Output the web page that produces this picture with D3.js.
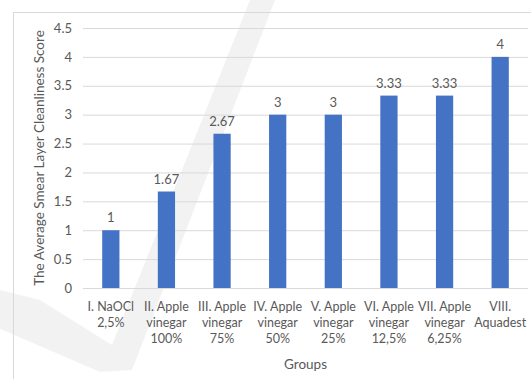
<!DOCTYPE html>
<html lang="en">
<head>
<meta charset="utf-8">
<title>Smear Layer Cleanliness Score</title>
<script src="https://d3js.org/d3.v7.min.js"></script>
<style>
  body { margin: 0; background: #fff; }
  text { font-family: Lato, "Open Sans", sans-serif; fill: #595959; }
  .tick text { font-size: 13px; }
  .value { font-size: 13px; }
  .title { font-size: 13.5px; }
</style>
</head>
<body>
<div id="vis"></div>
<script>
// data
const groups = [
  ["I. NaOCl", "2,5%"],
  ["II. Apple", "vinegar", "100%"],
  ["III. Apple", "vinegar", "75%"],
  ["IV. Apple", "vinegar", "50%"],
  ["V. Apple", "vinegar", "25%"],
  ["VI. Apple", "vinegar", "12,5%"],
  ["VII. Apple", "vinegar", "6,25%"],
  ["VIII.", "Aquadest"]
];
const scores = [1, 1.67, 2.67, 3, 3, 3.33, 3.33, 4];
const yTicks = [0, 0.5, 1, 1.5, 2, 2.5, 3, 3.5, 4, 4.5];

const width = 531, height = 379;
const margin = {top: 28, right: 3, bottom: 91, left: 83};

const svg = d3.select("#vis").append("svg")
  .attr("width", width).attr("height", height);

// faint watermark stroke behind the chart
svg.append("path")
  .attr("d", "M-20,285 L40,300 L112,345 L250,0 L275,0 L132,370 L100,372 L-20,320 Z")
  .attr("fill", "#555").attr("opacity", 0.08);

// chart frame
svg.append("rect")
  .attr("x", 13.5).attr("y", 12.5)
  .attr("width", 530).attr("height", 380)
  .attr("fill", "none").attr("stroke", "#d9d9d9");

const x = d3.scaleBand()
  .domain(d3.range(groups.length))
  .range([margin.left, width - margin.right])
  .paddingInner(0.69).paddingOuter(0.345);

const y = d3.scaleLinear()
  .domain([0, 4.5])
  .range([height - margin.bottom, margin.top]);

// gridlines + y labels
const yAxis = svg.append("g")
  .attr("transform", `translate(${margin.left},0)`)
  .call(d3.axisLeft(y).tickValues(yTicks).tickSize(-(width - margin.left - margin.right)).tickPadding(8).tickFormat(d3.format("")));
yAxis.select(".domain").remove();
yAxis.selectAll(".tick line").attr("stroke", "#d9d9d9");
yAxis.selectAll(".tick text").attr("x", -11);

svg.selectAll(".bar")
  .data(scores)
  .enter().append("rect")
  .attr("class", "bar")
  .attr("x", (d, i) => x(i))
  .attr("width", x.bandwidth())
  .attr("y", d => y(d))
  .attr("height", d => y(0) - y(d))
  .attr("fill", "#4472c4");

svg.selectAll(".value")
  .data(scores)
  .enter().append("text")
  .attr("class", "value")
  .attr("x", (d, i) => x(i) + x.bandwidth() / 2)
  .attr("y", d => y(d) - 8)
  .attr("text-anchor", "middle")
  .text(d => d);

// category labels (multi line)
const cat = svg.append("g");
groups.forEach((lines, i) => {
  const t = cat.append("text")
    .attr("text-anchor", "middle")
    .attr("x", x(i) + x.bandwidth() / 2)
    .attr("y", 311)
    .style("font-size", "12.5px");
  lines.forEach((s, k) => {
    t.append("tspan")
      .attr("x", x(i) + x.bandwidth() / 2)
      .attr("dy", k === 0 ? 0 : 16)
      .text(s);
  });
});

svg.append("text")
  .attr("class", "title")
  .attr("x", (margin.left + width - margin.right) / 2)
  .attr("y", 369)
  .attr("text-anchor", "middle")
  .text("Groups");

svg.append("text")
  .attr("class", "title")
  .attr("transform", `translate(44,${(y(0) + y(4.5)) / 2}) rotate(-90)`)
  .attr("text-anchor", "middle")
  .text("The Average Smear Layer Cleanliness Score");
</script>
</body>
</html>
